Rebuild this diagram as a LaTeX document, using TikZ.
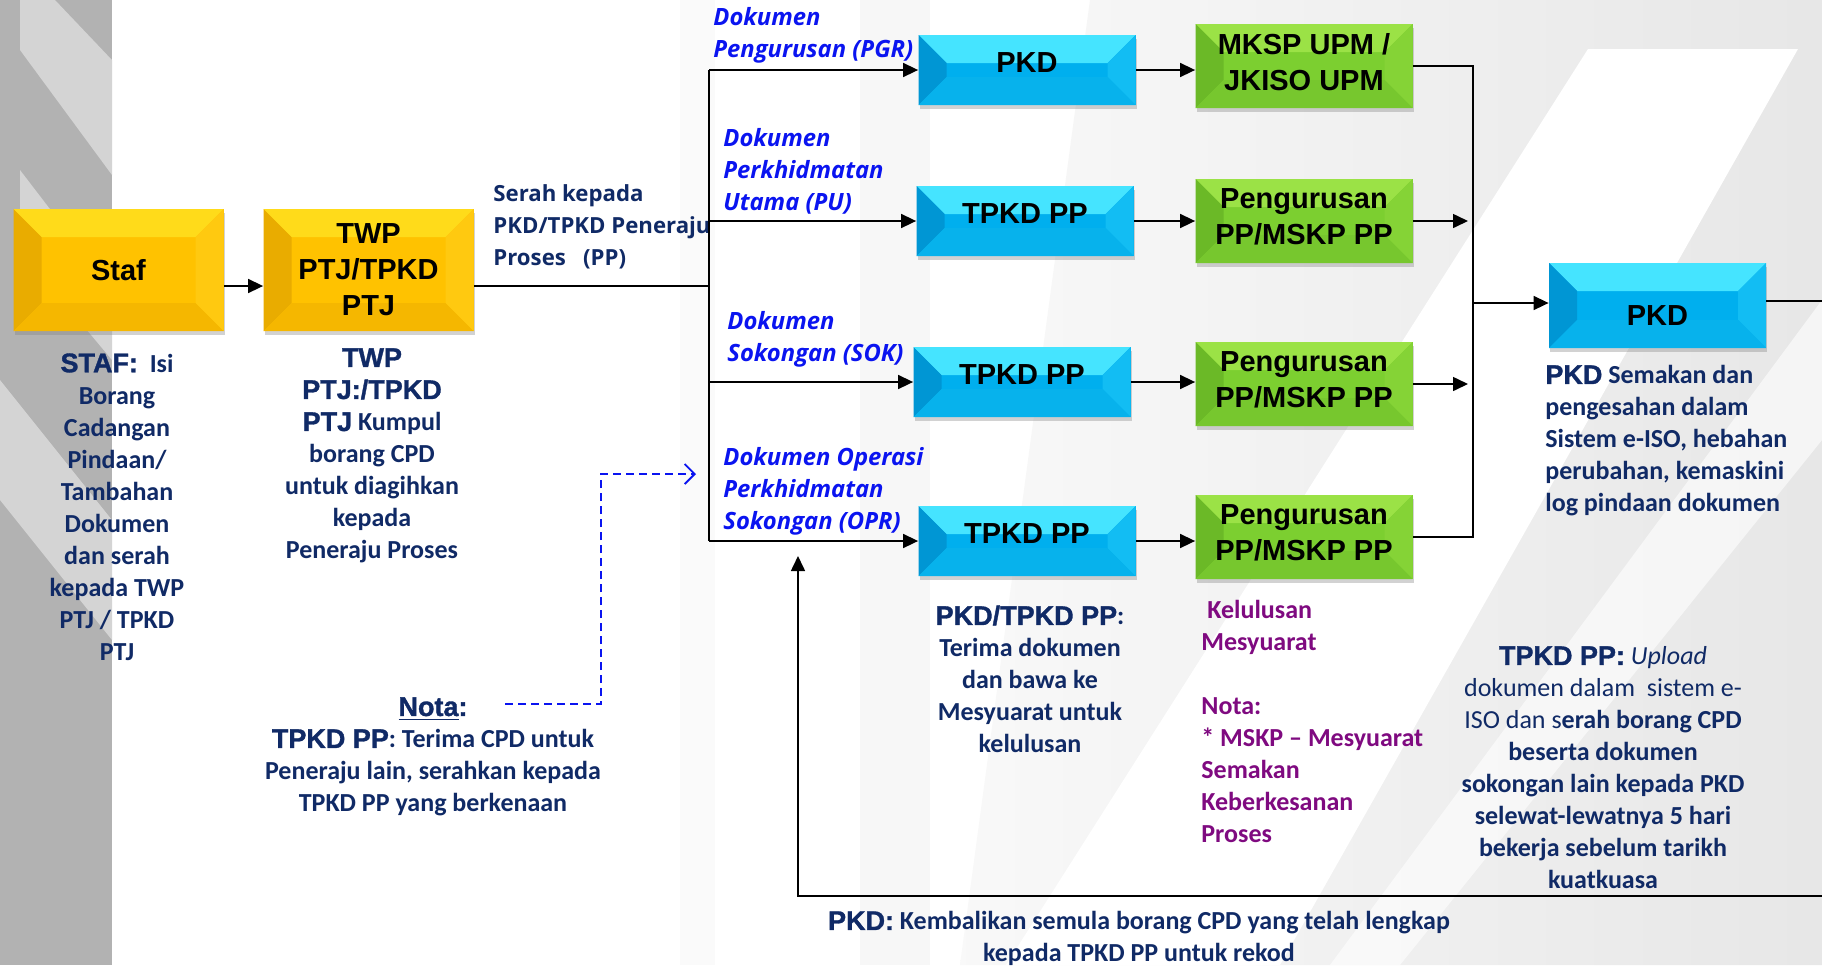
\documentclass[tikz,border=0pt]{standalone}
\usepackage{fontspec}
\setmainfont{Carlito}
\newfontfamily\boxfont{Liberation Sans}
\newfontfamily\headfont{Liberation Sans}[BoldFeatures={FakeBold=1.2}]
\newfontfamily\labfont{Open Sans}
\usetikzlibrary{arrows.meta,shadows}
\definecolor{navy}{HTML}{102A66}
\definecolor{lab}{HTML}{0A14F0}
\definecolor{purp}{HTML}{7F0A80}
\definecolor{ymid}{HTML}{FFC200}
\definecolor{ytop}{HTML}{FFDB1A}
\definecolor{ylft}{HTML}{E9AC00}
\definecolor{yrgt}{HTML}{FFC910}
\definecolor{ybot}{HTML}{F5B700}
\definecolor{bmid}{HTML}{00AFEE}
\definecolor{btop}{HTML}{45E4FF}
\definecolor{blft}{HTML}{0096D4}
\definecolor{brgt}{HTML}{12BDF3}
\definecolor{bbot}{HTML}{07B2EC}
\definecolor{gmid}{HTML}{7CCF30}
\definecolor{gtop}{HTML}{9BE246}
\definecolor{glft}{HTML}{6BB927}
\definecolor{grgt}{HTML}{85D336}
\definecolor{gbot}{HTML}{77C72E}
\newcommand{\hd}[1]{{\headfont\bfseries\fontsize{13.5}{16}\selectfont #1}}
\begin{document}
\begin{tikzpicture}[x=0.5pt,y=-0.5pt,
  bevel/.style={fill=#1mid, minimum width=108.5pt, minimum height=35pt, inner sep=1pt,
    align=center, font=\boxfont\bfseries\fontsize{14.5}{18}\selectfont,
    drop shadow={shadow xshift=0.6pt,shadow yshift=-1.8pt,opacity=0.35},
    path picture={
      \fill[#1top] (path picture bounding box.north west) -- (path picture bounding box.north east)
        -- ([xshift=-14pt,yshift=-14pt]path picture bounding box.north east)
        -- ([xshift=14pt,yshift=-14pt]path picture bounding box.north west) -- cycle;
      \fill[#1lft] (path picture bounding box.north west) -- ([xshift=14pt,yshift=-14pt]path picture bounding box.north west)
        -- ([xshift=14pt,yshift=14pt]path picture bounding box.south west) -- (path picture bounding box.south west) -- cycle;
      \fill[#1rgt] (path picture bounding box.north east) -- ([xshift=-14pt,yshift=-14pt]path picture bounding box.north east)
        -- ([xshift=-14pt,yshift=14pt]path picture bounding box.south east) -- (path picture bounding box.south east) -- cycle;
      \fill[#1bot] (path picture bounding box.south west) -- ([xshift=14pt,yshift=14pt]path picture bounding box.south west)
        -- ([xshift=-14pt,yshift=14pt]path picture bounding box.south east) -- (path picture bounding box.south east) -- cycle;
    }},
  ybox/.style={bevel=y, minimum width=105pt, minimum height=61pt},
  bbox/.style={bevel=b, text depth=7pt},
  gbox/.style={bevel=g, minimum height=42pt, text depth=4.5pt},
  txt/.style={text=navy, font=\bfseries\fontsize{13}{16}\selectfont, align=center, inner sep=0pt, anchor=north},
  blab/.style={text=lab, font=\labfont\bfseries\itshape\fontsize{11.9}{16}\selectfont, align=left, inner sep=0pt, anchor=north west},
  arr/.style={line width=0.8pt, -{Triangle[length=7.5pt,width=7pt]}},
  ln/.style={line width=0.8pt},
  dasharr/.style={lab, line width=0.9pt, dash pattern=on 4pt off 2.5pt, -{Straight Barb[length=5pt,width=10pt]}}]

\useasboundingbox (0,0) rectangle (1822,965);
\fill[white] (0,0) rectangle (1822,965);
\fill[gray!6] (860,0) rectangle (930,965);
\fill[gray!4] (680,0) rectangle (715,965);
\shade[left color=gray!5, right color=gray!19] (1090,0) -- (1822,0) -- (1822,965) -- (960,965) -- cycle;
\fill[white] (1588,49) -- (1798,49) -- (1280,965) -- (1006,965) -- cycle;
\fill[white, opacity=0.6] (1822,300) -- (1822,440) -- (1400,965) -- (1330,965) -- cycle;
\fill[black!30] (0,0) rectangle (112,965);
\begin{scope}
  \clip (0,0) rectangle (112,965);
  \fill[black!17] (20,0) -- (55,0) -- (112,60) -- (112,175) -- (20,50) -- cycle;
  \fill[black!17] (20,170) -- (112,290) -- (112,360) -- (20,250) -- cycle;
  \fill[black!17] (0,380) -- (112,520) -- (112,640) -- (0,500) -- cycle;
\end{scope}

\node[ybox] (staf) at (118.5,270) {Staf};
\node[ybox] (twp) at (368.5,270) {TWP\\PTJ/TPKD\\PTJ};
\node[bbox] (b1) at (1027,70) {PKD};
\node[bbox] (b2) at (1025,221) {TPKD PP};
\node[bbox] (b3) at (1022,382) {TPKD PP};
\node[bbox] (b4) at (1027,541) {TPKD PP};
\node[gbox] (g1) at (1304,66) {MKSP UPM /\\JKISO UPM};
\node[gbox] (g2) at (1304,221) {Pengurusan\\PP/MSKP PP};
\node[gbox] (g3) at (1304,384) {Pengurusan\\PP/MSKP PP};
\node[gbox] (g4) at (1304,537) {Pengurusan\\PP/MSKP PP};
\node[bbox, minimum height=42.5pt, text depth=0pt, text height=20pt] (pkd) at (1657.5,305.5) {PKD};

\node[txt] (stafnote) at (117,353) {\hd{STAF:}~~Isi\\Borang\\Cadangan\\Pindaan/\\Tambahan\\Dokumen\\dan serah\\kepada TWP\\PTJ / TPKD\\PTJ};
\node[txt] (twpnote) at (372,348) {\hd{TWP}\\\hd{PTJ:/TPKD}\\\hd{PTJ} Kumpul\\borang CPD\\untuk diagihkan\\kepada\\Peneraju Proses};
\node[txt, anchor=north west, align=left, font=\labfont\bfseries\fontsize{11.1}{16}\selectfont] (serah) at (493,184) {Serah kepada\\PKD/TPKD Peneraju\\Proses~~~(PP)};
\node[blab] (lpgr) at (713,7) {Dokumen\\Pengurusan (PGR)};
\node[blab] (lpu) at (723,128) {Dokumen\\Perkhidmatan\\Utama (PU)};
\node[blab] (lsok) at (727,311) {Dokumen\\Sokongan (SOK)};
\node[blab] (lopr) at (723,447) {Dokumen Operasi\\Perkhidmatan\\Sokongan (OPR)};
\node[txt] (tpkdnote) at (1030,605) {\hd{PKD/TPKD PP}:\\Terima dokumen\\dan bawa ke\\Mesyuarat untuk\\kelulusan};
\node[txt, text=purp, anchor=north west, align=left] (lulus) at (1201,600) {\hspace{3pt}Kelulusan\\Mesyuarat\\[16pt]Nota:\\* MSKP – Mesyuarat\\Semakan\\Keberkesanan\\Proses};
\node[txt] (nota) at (433,697) {\underline{\hd{Nota}}\hd{:}\\\hd{TPKD PP}: Terima CPD untuk\\Peneraju lain, serahkan kepada\\TPKD PP yang berkenaan};
\node[txt, anchor=north west, align=left] (pkdnote) at (1545,365) {\hd{PKD} Semakan dan\\pengesahan dalam\\Sistem e-ISO, hebahan\\perubahan, kemaskini\\log pindaan dokumen};
\node[txt] (upload) at (1603,646) {\hd{TPKD PP:} {\mdseries\itshape Upload}\\{\mdseries dokumen dalam~~sistem e-}\\{\mdseries ISO dan s}erah borang CPD\\beserta dokumen\\sokongan lain kepada PKD\\selewat-lewatnya 5 hari\\bekerja sebelum tarikh\\kuatkuasa};
\node[txt] (rekod) at (1139,911) {\hd{PKD:} Kembalikan semula borang CPD yang telah lengkap\\kepada TPKD PP untuk rekod};

\coordinate (split) at (709,286);
\coordinate (col) at (1473,303);
\coordinate (redge) at (1822,301);
\coordinate (rback) at (1822,896);
\coordinate (rtip) at (798,556);
\coordinate (dstart) at (505,704);
\coordinate (dmid) at (601,474);
\coordinate (dend) at (696,474);

\draw[arr] ([yshift=-8pt]staf.east) -- ([yshift=-8pt]twp.west);
\draw[ln] ([yshift=-8pt]twp.east) -- (split);
\draw[ln] (split |- b1.west) -- (split |- b4.west);
\foreach \b in {b1,b2,b3,b4} \draw[arr] (split |- \b.west) -- (\b.west);
\foreach \b/\g in {b1/g1,b2/g2,b3/g3,b4/g4} \draw[arr] (\b.east) -- (\g.west |- \b.east);
\draw[ln] (g1.east) -- (col |- g1.east) -- (col |- g4.east) -- (g4.east);
\draw[arr] (g2.east) -- ([xshift=-2.5pt]col |- g2.east);
\draw[arr] (g3.east) -- ([xshift=-2.5pt]col |- g3.east);
\draw[arr] (col) -- (pkd.west |- col);
\draw[ln] (pkd.east |- redge) -- (redge);
\draw[arr] (rback) -- (rtip |- rback) -- (rtip);
\draw[dasharr] (dstart) -| (dmid) -- (dend);
\end{tikzpicture}
\end{document}
